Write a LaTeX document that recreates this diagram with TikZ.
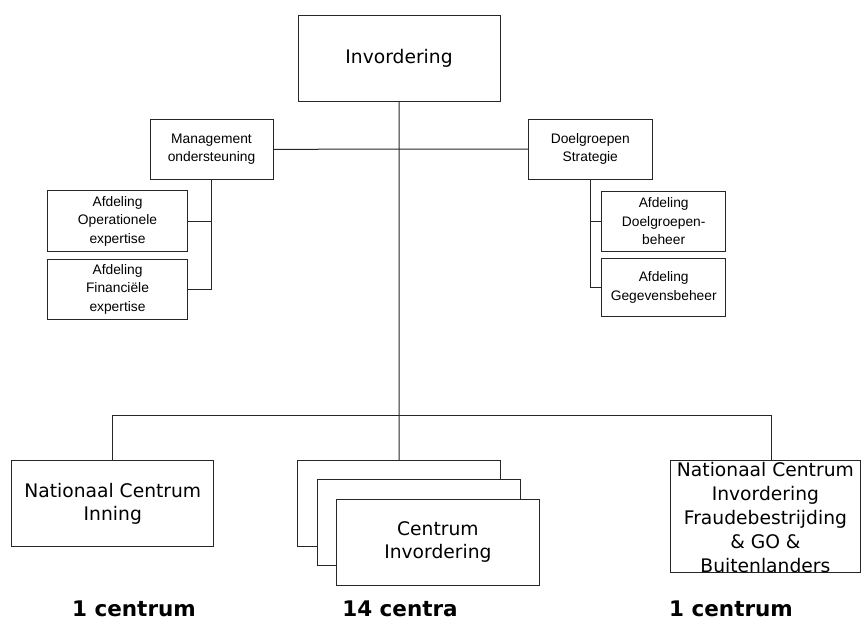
\documentclass[tikz,border=0pt]{standalone}
\usepackage{fontspec}
\setmainfont{DejaVu Sans}
\newfontfamily\smallsans{Liberation Sans}
\begin{document}
\begin{tikzpicture}[x=1pt,y=1pt,
  line width=1pt,
  box/.style={draw=black!85, fill=white, rectangle, inner sep=0pt, align=center},
  bigbox/.style={box, font=\fontsize{18.7}{22.7}\selectfont},
  smallbox/.style={box, font=\smallsans\fontsize{13.8}{18.3}\selectfont},
  count/.style={anchor=base, font=\bfseries\fontsize{21.5}{24}\selectfont},
  link/.style={draw=black!85, line width=1pt}]
\useasboundingbox (0,0) rectangle (861,-621);

% top level
\node[bigbox, minimum width=202, minimum height=86] (top) at (399,-58) {Invordering};

% staff units
\node[smallbox, minimum width=123, minimum height=60] (mgmt) at (211.5,-149.3) {Management\\ondersteuning};
\node[smallbox, minimum width=124, minimum height=60] (doel) at (590.3,-149) {Doelgroepen\\Strategie};

\node[smallbox, minimum width=140.4, minimum height=61] (opx) at (117.5,-221.2) {Afdeling\\Operationele\\expertise};
\node[smallbox, minimum width=140.4, minimum height=60.3] (fin) at (117.5,-289.2) {Afdeling\\Financiële\\expertise};

\node[smallbox, minimum width=124, minimum height=60.3] (dgb) at (663.7,-221.2) {Afdeling\\Doelgroepen-\\beheer};
\node[smallbox, minimum width=124, minimum height=58.4] (geg) at (663.7,-287.5) {Afdeling\\Gegevensbeheer};

% centres
\node[bigbox, minimum width=202.3, minimum height=86] (inning) at (112.8,-503.7) {Nationaal Centrum\\Inning};

\node[bigbox, minimum width=203, minimum height=86] (c1) at (399.2,-503.7) {};
\node[bigbox, minimum width=203, minimum height=86] (c2) at (418.7,-522.9) {};
\node[bigbox, minimum width=202.3, minimum height=86] (c3) at (437.9,-542) {Centrum\\Invordering};

\node[box, minimum width=189.3, minimum height=111.6] (nat) at (765.4,-516.5) {};
\node[align=center, inner sep=0pt, font=\fontsize{18.7}{24}\selectfont] (nattext) at (765.4,-518) {Nationaal Centrum\\Invordering\\Fraudebestrijding\\\& GO \&\\Buitenlanders};

% counts
\node[count] (n1) at (134,-616.5) {1 centrum};
\node[count] (n2) at (400,-616.5) {14 centra};
\node[count] (n3) at (731,-616.5) {1 centrum};

% connectors
\coordinate (bar) at (399,-415.5);
\path[link] (top.south) -- (c1.north);
\path[link] (inning.north) |- (bar) -| ([xshift=6.3pt]nat.north);
\path[link] (mgmt.east) -- (doel.west);
\path[link] (mgmt.south) |- (fin.east);
\path[link] (mgmt.south |- opx.east) -- (opx.east);
\path[link] (doel.south) |- (geg.west);
\path[link] (doel.south |- dgb.west) -- (dgb.west);
\end{tikzpicture}
\end{document}
